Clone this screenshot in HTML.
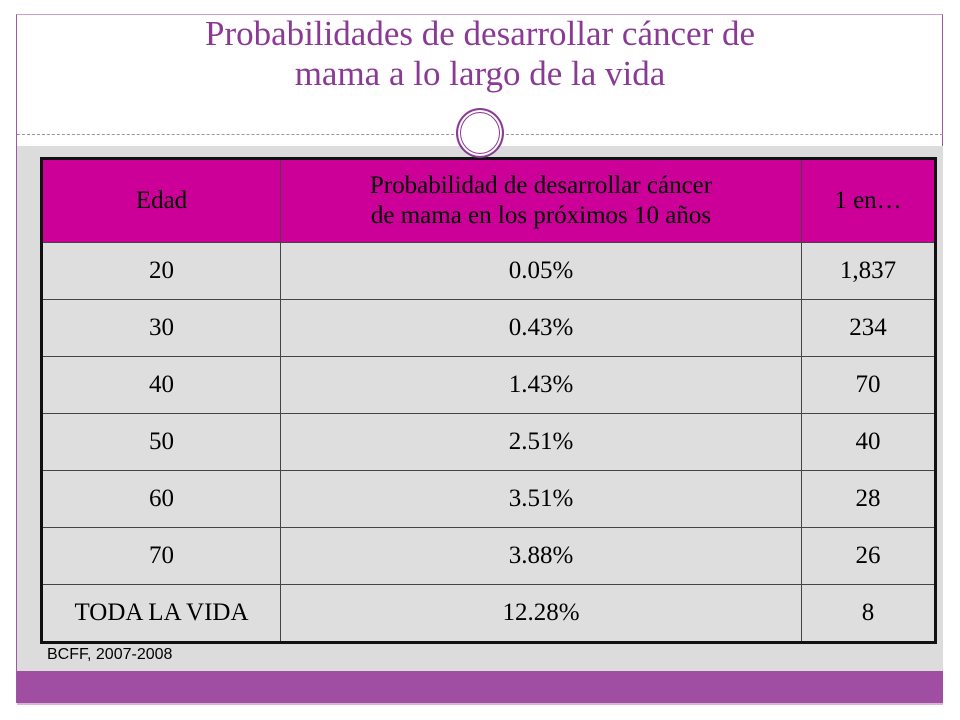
<!DOCTYPE html>
<html><head><meta charset="utf-8"><style>
body{margin:0;width:960px;height:720px;background:#fff;position:relative;overflow:hidden;font-family:"Liberation Serif",serif}
.frame{position:absolute;left:16px;top:14px;width:927px;height:689px;border-left:1px solid #9b5aa0;border-right:1px solid #9b5aa0;border-top:1px solid #c9a0cc;box-sizing:border-box}
.title{position:absolute;left:16px;width:928px;top:14px;text-align:center;color:#8a3a94;font-size:35px;line-height:40px}
.dash{position:absolute;left:17px;width:926px;top:134px;border-top:1px dashed #999}
.gray{position:absolute;left:17px;width:926px;top:146px;height:525px;background:#dcdcdc}
.band{position:absolute;left:17px;width:926px;top:671px;height:32px;background:#a04ea2;border-bottom:2px solid #d9b4da}
.circ{position:absolute;left:456px;top:108px;width:44px;height:46px;border-radius:50%;background:#fff;border:2px solid #8a3a94;box-shadow:inset 0 0 0 2px #fff,inset 0 0 0 3px #8a3a94}
table{position:absolute;left:40px;top:157px;width:897px;border-collapse:collapse;border:3px solid #111;font-size:25px}
td{border:1px solid #444;text-align:center;background:#dedede;height:56px;padding:0;color:#000}
tr.h td{background:#cc0099;height:82px;line-height:30px}
.src{position:absolute;left:47px;top:646px;font-family:"Liberation Sans",sans-serif;font-size:16px}
</style></head><body>
<div class="frame"></div>
<div class="title">Probabilidades de desarrollar cáncer de<br>mama a lo largo de la vida</div>
<div class="dash"></div>
<div class="gray"></div>
<div class="band"></div>
<table>
<colgroup><col style="width:239px"><col style="width:521px"><col></colgroup>
<tr class="h"><td>Edad</td><td>Probabilidad de desarrollar cáncer<br>de mama en los próximos 10 años</td><td>1 en…</td></tr>
<tr><td>20</td><td>0.05%</td><td>1,837</td></tr>
<tr><td>30</td><td>0.43%</td><td>234</td></tr>
<tr><td>40</td><td>1.43%</td><td>70</td></tr>
<tr><td>50</td><td>2.51%</td><td>40</td></tr>
<tr><td>60</td><td>3.51%</td><td>28</td></tr>
<tr><td>70</td><td>3.88%</td><td>26</td></tr>
<tr><td>TODA LA VIDA</td><td>12.28%</td><td>8</td></tr>
</table>
<div class="circ"></div>
<div class="src">BCFF, 2007-2008</div>
</body></html>
